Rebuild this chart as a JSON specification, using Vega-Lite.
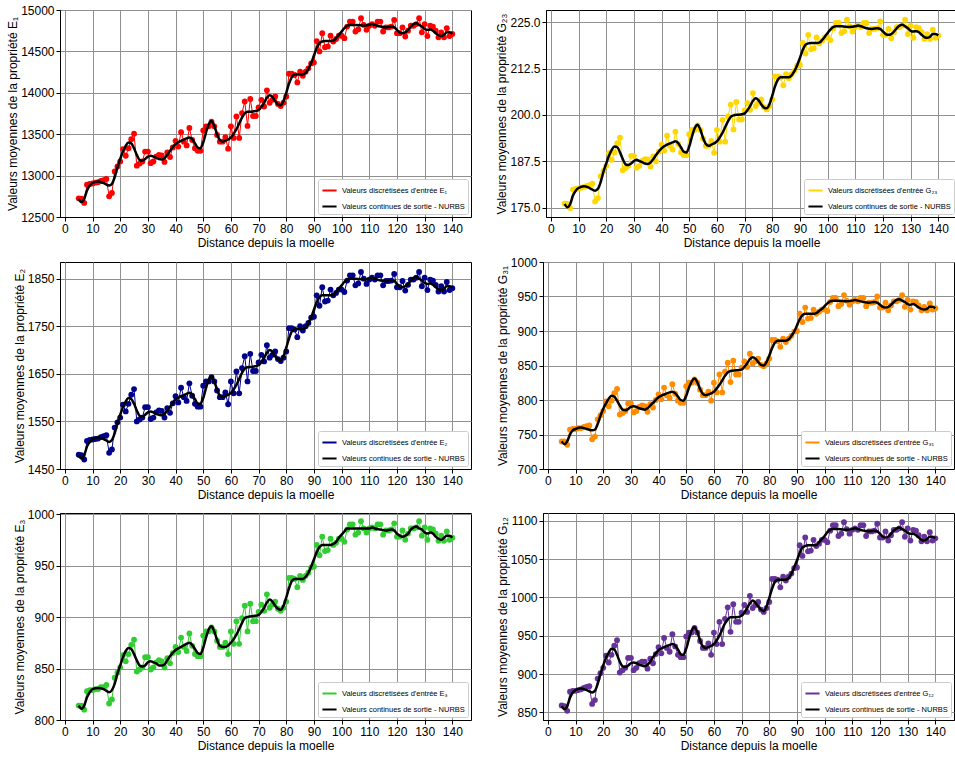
{
"$schema": "https://vega.github.io/schema/vega-lite/v6.json",
"padding": {"left": 6, "top": 3, "right": 0, "bottom": 0},
"datasets": {
"pts": [
{"x":5,"E1":12725,"E2":1480,"G23":176.1,"G31":740,"E3":814,"G12":859},
{"x":6,"E1":12720,"E2":1479,"G23":176.0,"G31":740,"E3":814,"G12":858},
{"x":7,"E1":12670,"E2":1470,"G23":174.9,"G31":735,"E3":810,"G12":852},
{"x":8,"E1":12890,"E2":1509,"G23":179.9,"G31":757,"E3":828,"G12":877},
{"x":9,"E1":12900,"E2":1511,"G23":180.1,"G31":758,"E3":829,"G12":878},
{"x":10,"E1":12905,"E2":1512,"G23":180.2,"G31":758,"E3":829,"G12":878},
{"x":11,"E1":12915,"E2":1513,"G23":180.4,"G31":759,"E3":830,"G12":879},
{"x":12,"E1":12920,"E2":1514,"G23":180.6,"G31":759,"E3":830,"G12":880},
{"x":13,"E1":12935,"E2":1517,"G23":180.9,"G31":761,"E3":832,"G12":882},
{"x":14,"E1":12945,"E2":1519,"G23":181.1,"G31":762,"E3":832,"G12":883},
{"x":15,"E1":12960,"E2":1521,"G23":181.5,"G31":763,"E3":834,"G12":884},
{"x":16,"E1":12750,"E2":1484,"G23":176.7,"G31":743,"E3":816,"G12":861},
{"x":17,"E1":12790,"E2":1491,"G23":177.6,"G31":747,"E3":820,"G12":866},
{"x":18,"E1":13050,"E2":1537,"G23":183.5,"G31":772,"E3":841,"G12":894},
{"x":19,"E1":13110,"E2":1548,"G23":184.9,"G31":778,"E3":846,"G12":901},
{"x":20,"E1":13170,"E2":1558,"G23":186.3,"G31":784,"E3":851,"G12":908},
{"x":21,"E1":13320,"E2":1585,"G23":189.7,"G31":798,"E3":863,"G12":924},
{"x":22,"E1":13240,"E2":1571,"G23":187.9,"G31":791,"E3":857,"G12":915},
{"x":23,"E1":13330,"E2":1587,"G23":189.9,"G31":799,"E3":864,"G12":925},
{"x":24,"E1":13440,"E2":1606,"G23":192.4,"G31":810,"E3":873,"G12":937},
{"x":25,"E1":13505,"E2":1618,"G23":193.9,"G31":816,"E3":878,"G12":944},
{"x":26,"E1":13120,"E2":1550,"G23":185.1,"G31":779,"E3":847,"G12":902},
{"x":27,"E1":13145,"E2":1554,"G23":185.7,"G31":781,"E3":849,"G12":905},
{"x":28,"E1":13170,"E2":1558,"G23":186.3,"G31":784,"E3":851,"G12":908},
{"x":29,"E1":13290,"E2":1580,"G23":189.0,"G31":795,"E3":861,"G12":921},
{"x":30,"E1":13290,"E2":1580,"G23":189.0,"G31":795,"E3":861,"G12":921},
{"x":31,"E1":13150,"E2":1555,"G23":185.8,"G31":782,"E3":849,"G12":905},
{"x":32,"E1":13170,"E2":1558,"G23":186.3,"G31":784,"E3":851,"G12":908},
{"x":33,"E1":13230,"E2":1569,"G23":187.6,"G31":790,"E3":856,"G12":914},
{"x":34,"E1":13250,"E2":1573,"G23":188.1,"G31":792,"E3":858,"G12":916},
{"x":35,"E1":13245,"E2":1572,"G23":188.0,"G31":791,"E3":857,"G12":916},
{"x":36,"E1":13165,"E2":1558,"G23":186.1,"G31":783,"E3":851,"G12":907},
{"x":37,"E1":13280,"E2":1578,"G23":188.8,"G31":794,"E3":860,"G12":920},
{"x":38,"E1":13225,"E2":1568,"G23":187.5,"G31":789,"E3":855,"G12":914},
{"x":39,"E1":13340,"E2":1588,"G23":190.1,"G31":800,"E3":865,"G12":926},
{"x":40,"E1":13420,"E2":1603,"G23":192.0,"G31":808,"E3":871,"G12":935},
{"x":41,"E1":13350,"E2":1590,"G23":190.4,"G31":801,"E3":866,"G12":927},
{"x":42,"E1":13525,"E2":1621,"G23":194.4,"G31":818,"E3":880,"G12":947},
{"x":43,"E1":13410,"E2":1601,"G23":191.7,"G31":807,"E3":871,"G12":934},
{"x":44,"E1":13365,"E2":1593,"G23":190.7,"G31":803,"E3":867,"G12":929},
{"x":45,"E1":13575,"E2":1630,"G23":195.5,"G31":823,"E3":884,"G12":952},
{"x":46,"E1":13430,"E2":1604,"G23":192.2,"G31":809,"E3":872,"G12":936},
{"x":47,"E1":13330,"E2":1587,"G23":189.9,"G31":799,"E3":864,"G12":925},
{"x":48,"E1":13300,"E2":1581,"G23":189.2,"G31":796,"E3":862,"G12":922},
{"x":49,"E1":13300,"E2":1581,"G23":189.2,"G31":796,"E3":862,"G12":922},
{"x":50,"E1":13545,"E2":1625,"G23":194.8,"G31":820,"E3":882,"G12":949},
{"x":51,"E1":13595,"E2":1634,"G23":196.0,"G31":825,"E3":886,"G12":954},
{"x":52,"E1":13595,"E2":1634,"G23":196.0,"G31":825,"E3":886,"G12":954},
{"x":53,"E1":13650,"E2":1643,"G23":197.2,"G31":830,"E3":890,"G12":960},
{"x":54,"E1":13595,"E2":1634,"G23":196.0,"G31":825,"E3":886,"G12":954},
{"x":55,"E1":13490,"E2":1615,"G23":193.6,"G31":815,"E3":877,"G12":943},
{"x":56,"E1":13410,"E2":1601,"G23":191.7,"G31":807,"E3":871,"G12":934},
{"x":57,"E1":13410,"E2":1601,"G23":191.7,"G31":807,"E3":871,"G12":934},
{"x":58,"E1":13465,"E2":1611,"G23":193.0,"G31":812,"E3":875,"G12":940},
{"x":59,"E1":13325,"E2":1586,"G23":189.8,"G31":799,"E3":864,"G12":925},
{"x":60,"E1":13595,"E2":1634,"G23":196.0,"G31":825,"E3":886,"G12":954},
{"x":61,"E1":13455,"E2":1609,"G23":192.8,"G31":811,"E3":874,"G12":939},
{"x":62,"E1":13715,"E2":1655,"G23":198.7,"G31":837,"E3":896,"G12":968},
{"x":63,"E1":13455,"E2":1609,"G23":192.8,"G31":811,"E3":874,"G12":939},
{"x":64,"E1":13755,"E2":1662,"G23":199.6,"G31":841,"E3":899,"G12":972},
{"x":65,"E1":13895,"E2":1687,"G23":202.8,"G31":854,"E3":911,"G12":987},
{"x":66,"E1":13600,"E2":1634,"G23":196.1,"G31":826,"E3":886,"G12":955},
{"x":67,"E1":13925,"E2":1692,"G23":203.5,"G31":857,"E3":913,"G12":991},
{"x":68,"E1":13720,"E2":1656,"G23":198.8,"G31":837,"E3":896,"G12":968},
{"x":69,"E1":13720,"E2":1656,"G23":198.8,"G31":837,"E3":896,"G12":968},
{"x":70,"E1":13825,"E2":1674,"G23":201.2,"G31":847,"E3":905,"G12":980},
{"x":71,"E1":13915,"E2":1690,"G23":203.2,"G31":856,"E3":912,"G12":990},
{"x":72,"E1":13835,"E2":1676,"G23":201.4,"G31":848,"E3":906,"G12":981},
{"x":73,"E1":14030,"E2":1710,"G23":205.9,"G31":867,"E3":922,"G12":1002},
{"x":74,"E1":13880,"E2":1684,"G23":202.4,"G31":853,"E3":909,"G12":986},
{"x":75,"E1":13915,"E2":1690,"G23":203.2,"G31":856,"E3":912,"G12":990},
{"x":76,"E1":13955,"E2":1697,"G23":204.2,"G31":860,"E3":915,"G12":994},
{"x":77,"E1":13865,"E2":1681,"G23":202.1,"G31":851,"E3":908,"G12":984},
{"x":78,"E1":13840,"E2":1677,"G23":201.5,"G31":849,"E3":906,"G12":981},
{"x":79,"E1":13880,"E2":1684,"G23":202.4,"G31":853,"E3":909,"G12":986},
{"x":80,"E1":13955,"E2":1697,"G23":204.2,"G31":860,"E3":915,"G12":994},
{"x":81,"E1":14230,"E2":1746,"G23":210.4,"G31":887,"E3":938,"G12":1024},
{"x":82,"E1":14230,"E2":1746,"G23":210.4,"G31":887,"E3":938,"G12":1024},
{"x":83,"E1":14215,"E2":1743,"G23":210.1,"G31":885,"E3":937,"G12":1023},
{"x":84,"E1":14125,"E2":1727,"G23":208.0,"G31":877,"E3":929,"G12":1013},
{"x":85,"E1":14255,"E2":1750,"G23":211.0,"G31":889,"E3":940,"G12":1027},
{"x":86,"E1":14205,"E2":1741,"G23":209.9,"G31":884,"E3":936,"G12":1022},
{"x":87,"E1":14255,"E2":1750,"G23":211.0,"G31":889,"E3":940,"G12":1027},
{"x":88,"E1":14295,"E2":1757,"G23":211.9,"G31":893,"E3":943,"G12":1031},
{"x":89,"E1":14355,"E2":1768,"G23":213.3,"G31":899,"E3":948,"G12":1038},
{"x":90,"E1":14365,"E2":1770,"G23":213.5,"G31":900,"E3":949,"G12":1039},
{"x":91,"E1":14625,"E2":1815,"G23":219.4,"G31":925,"E3":970,"G12":1068},
{"x":92,"E1":14500,"E2":1793,"G23":216.6,"G31":913,"E3":960,"G12":1054},
{"x":93,"E1":14720,"E2":1832,"G23":221.6,"G31":934,"E3":978,"G12":1078},
{"x":94,"E1":14550,"E2":1802,"G23":217.7,"G31":918,"E3":964,"G12":1060},
{"x":95,"E1":14560,"E2":1804,"G23":218.0,"G31":919,"E3":965,"G12":1061},
{"x":96,"E1":14690,"E2":1827,"G23":220.9,"G31":931,"E3":976,"G12":1075},
{"x":97,"E1":14620,"E2":1815,"G23":219.3,"G31":925,"E3":970,"G12":1067},
{"x":98,"E1":14650,"E2":1820,"G23":220.0,"G31":928,"E3":972,"G12":1070},
{"x":99,"E1":14690,"E2":1827,"G23":220.9,"G31":931,"E3":976,"G12":1075},
{"x":100,"E1":14690,"E2":1827,"G23":220.9,"G31":931,"E3":976,"G12":1075},
{"x":101,"E1":14660,"E2":1822,"G23":220.2,"G31":929,"E3":973,"G12":1072},
{"x":102,"E1":14800,"E2":1846,"G23":223.4,"G31":942,"E3":985,"G12":1087},
{"x":103,"E1":14860,"E2":1857,"G23":224.8,"G31":948,"E3":990,"G12":1094},
{"x":104,"E1":14860,"E2":1857,"G23":224.8,"G31":948,"E3":990,"G12":1094},
{"x":105,"E1":14740,"E2":1836,"G23":222.1,"G31":936,"E3":980,"G12":1080},
{"x":106,"E1":14765,"E2":1840,"G23":222.6,"G31":939,"E3":982,"G12":1083},
{"x":107,"E1":14900,"E2":1864,"G23":225.7,"G31":952,"E3":993,"G12":1098},
{"x":108,"E1":14820,"E2":1850,"G23":223.9,"G31":944,"E3":986,"G12":1089},
{"x":109,"E1":14760,"E2":1839,"G23":222.5,"G31":938,"E3":982,"G12":1083},
{"x":110,"E1":14810,"E2":1848,"G23":223.7,"G31":943,"E3":986,"G12":1088},
{"x":111,"E1":14830,"E2":1852,"G23":224.1,"G31":945,"E3":987,"G12":1090},
{"x":112,"E1":14810,"E2":1848,"G23":223.7,"G31":943,"E3":986,"G12":1088},
{"x":113,"E1":14860,"E2":1857,"G23":224.8,"G31":948,"E3":990,"G12":1094},
{"x":114,"E1":14860,"E2":1857,"G23":224.8,"G31":948,"E3":990,"G12":1094},
{"x":115,"E1":14740,"E2":1836,"G23":222.1,"G31":936,"E3":980,"G12":1080},
{"x":116,"E1":14790,"E2":1845,"G23":223.2,"G31":941,"E3":984,"G12":1086},
{"x":117,"E1":14790,"E2":1845,"G23":223.2,"G31":941,"E3":984,"G12":1086},
{"x":118,"E1":14800,"E2":1846,"G23":223.4,"G31":942,"E3":985,"G12":1087},
{"x":119,"E1":14880,"E2":1860,"G23":225.2,"G31":950,"E3":991,"G12":1096},
{"x":120,"E1":14720,"E2":1832,"G23":221.6,"G31":934,"E3":978,"G12":1078},
{"x":121,"E1":14720,"E2":1832,"G23":221.6,"G31":934,"E3":978,"G12":1078},
{"x":122,"E1":14790,"E2":1845,"G23":223.2,"G31":941,"E3":984,"G12":1086},
{"x":123,"E1":14680,"E2":1825,"G23":220.7,"G31":930,"E3":975,"G12":1074},
{"x":124,"E1":14750,"E2":1837,"G23":222.3,"G31":937,"E3":981,"G12":1081},
{"x":125,"E1":14810,"E2":1848,"G23":223.7,"G31":943,"E3":986,"G12":1088},
{"x":126,"E1":14810,"E2":1848,"G23":223.7,"G31":943,"E3":986,"G12":1088},
{"x":127,"E1":14830,"E2":1852,"G23":224.1,"G31":945,"E3":987,"G12":1090},
{"x":128,"E1":14900,"E2":1864,"G23":225.7,"G31":952,"E3":993,"G12":1098},
{"x":129,"E1":14730,"E2":1834,"G23":221.8,"G31":935,"E3":979,"G12":1079},
{"x":130,"E1":14830,"E2":1852,"G23":224.1,"G31":945,"E3":987,"G12":1090},
{"x":131,"E1":14685,"E2":1826,"G23":220.8,"G31":931,"E3":975,"G12":1074},
{"x":132,"E1":14810,"E2":1848,"G23":223.7,"G31":943,"E3":986,"G12":1088},
{"x":133,"E1":14800,"E2":1846,"G23":223.4,"G31":942,"E3":985,"G12":1087},
{"x":134,"E1":14750,"E2":1837,"G23":222.3,"G31":937,"E3":981,"G12":1081},
{"x":135,"E1":14670,"E2":1823,"G23":220.5,"G31":930,"E3":974,"G12":1073},
{"x":136,"E1":14730,"E2":1834,"G23":221.8,"G31":935,"E3":979,"G12":1079},
{"x":137,"E1":14670,"E2":1823,"G23":220.5,"G31":930,"E3":974,"G12":1073},
{"x":138,"E1":14780,"E2":1843,"G23":223.0,"G31":940,"E3":983,"G12":1085},
{"x":139,"E1":14685,"E2":1826,"G23":220.8,"G31":931,"E3":975,"G12":1074},
{"x":140,"E1":14710,"E2":1830,"G23":221.4,"G31":933,"E3":977,"G12":1077}
],
"crv": [
{"x":5,"E1":12720,"E2":1479,"G23":176.0,"G31":740,"E3":814,"G12":858},
{"x":6,"E1":12680,"E2":1472,"G23":175.1,"G31":736,"E3":811,"G12":854},
{"x":7,"E1":12720,"E2":1479,"G23":176.0,"G31":740,"E3":814,"G12":858},
{"x":8,"E1":12820,"E2":1497,"G23":178.3,"G31":750,"E3":822,"G12":869},
{"x":9,"E1":12880,"E2":1507,"G23":179.6,"G31":756,"E3":827,"G12":876},
{"x":10,"E1":12910,"E2":1513,"G23":180.3,"G31":758,"E3":830,"G12":879},
{"x":12,"E1":12930,"E2":1516,"G23":180.8,"G31":760,"E3":831,"G12":881},
{"x":14,"E1":12910,"E2":1513,"G23":180.3,"G31":758,"E3":830,"G12":879},
{"x":16,"E1":12880,"E2":1507,"G23":179.6,"G31":756,"E3":827,"G12":876},
{"x":17,"E1":12900,"E2":1511,"G23":180.1,"G31":757,"E3":829,"G12":878},
{"x":18,"E1":12980,"E2":1525,"G23":181.9,"G31":765,"E3":835,"G12":887},
{"x":19,"E1":13100,"E2":1546,"G23":184.7,"G31":777,"E3":845,"G12":900},
{"x":20,"E1":13200,"E2":1564,"G23":186.9,"G31":787,"E3":853,"G12":911},
{"x":21,"E1":13290,"E2":1580,"G23":189.0,"G31":795,"E3":861,"G12":921},
{"x":22,"E1":13360,"E2":1592,"G23":190.6,"G31":802,"E3":867,"G12":928},
{"x":23,"E1":13400,"E2":1599,"G23":191.5,"G31":806,"E3":870,"G12":933},
{"x":24,"E1":13390,"E2":1597,"G23":191.3,"G31":805,"E3":869,"G12":932},
{"x":25,"E1":13330,"E2":1587,"G23":189.9,"G31":799,"E3":864,"G12":925},
{"x":26,"E1":13250,"E2":1573,"G23":188.1,"G31":792,"E3":858,"G12":916},
{"x":27,"E1":13190,"E2":1562,"G23":186.7,"G31":786,"E3":853,"G12":910},
{"x":28,"E1":13180,"E2":1560,"G23":186.5,"G31":785,"E3":852,"G12":909},
{"x":29,"E1":13200,"E2":1564,"G23":186.9,"G31":787,"E3":853,"G12":911},
{"x":30,"E1":13230,"E2":1569,"G23":187.6,"G31":790,"E3":856,"G12":914},
{"x":31,"E1":13240,"E2":1571,"G23":187.9,"G31":791,"E3":857,"G12":915},
{"x":32,"E1":13230,"E2":1569,"G23":187.6,"G31":790,"E3":856,"G12":914},
{"x":33,"E1":13215,"E2":1566,"G23":187.3,"G31":788,"E3":855,"G12":912},
{"x":34,"E1":13200,"E2":1564,"G23":186.9,"G31":787,"E3":853,"G12":911},
{"x":35,"E1":13195,"E2":1563,"G23":186.8,"G31":786,"E3":853,"G12":910},
{"x":36,"E1":13210,"E2":1566,"G23":187.2,"G31":788,"E3":854,"G12":912},
{"x":37,"E1":13250,"E2":1573,"G23":188.1,"G31":792,"E3":858,"G12":916},
{"x":38,"E1":13300,"E2":1581,"G23":189.2,"G31":796,"E3":862,"G12":922},
{"x":40,"E1":13380,"E2":1596,"G23":191.0,"G31":804,"E3":868,"G12":931},
{"x":42,"E1":13420,"E2":1603,"G23":192.0,"G31":808,"E3":871,"G12":935},
{"x":44,"E1":13450,"E2":1608,"G23":192.6,"G31":811,"E3":874,"G12":938},
{"x":45,"E1":13460,"E2":1610,"G23":192.9,"G31":812,"E3":875,"G12":939},
{"x":46,"E1":13440,"E2":1606,"G23":192.4,"G31":810,"E3":873,"G12":937},
{"x":47,"E1":13390,"E2":1597,"G23":191.3,"G31":805,"E3":869,"G12":932},
{"x":48,"E1":13340,"E2":1588,"G23":190.1,"G31":800,"E3":865,"G12":926},
{"x":49,"E1":13330,"E2":1587,"G23":189.9,"G31":799,"E3":864,"G12":925},
{"x":50,"E1":13400,"E2":1599,"G23":191.5,"G31":806,"E3":870,"G12":933},
{"x":51,"E1":13520,"E2":1620,"G23":194.2,"G31":818,"E3":880,"G12":946},
{"x":52,"E1":13620,"E2":1638,"G23":196.5,"G31":827,"E3":888,"G12":957},
{"x":53,"E1":13660,"E2":1645,"G23":197.4,"G31":831,"E3":891,"G12":961},
{"x":54,"E1":13600,"E2":1634,"G23":196.1,"G31":826,"E3":886,"G12":955},
{"x":55,"E1":13500,"E2":1617,"G23":193.8,"G31":816,"E3":878,"G12":944},
{"x":56,"E1":13430,"E2":1604,"G23":192.2,"G31":809,"E3":872,"G12":936},
{"x":57,"E1":13410,"E2":1601,"G23":191.7,"G31":807,"E3":871,"G12":934},
{"x":58,"E1":13420,"E2":1603,"G23":192.0,"G31":808,"E3":871,"G12":935},
{"x":60,"E1":13460,"E2":1610,"G23":192.9,"G31":812,"E3":875,"G12":939},
{"x":62,"E1":13560,"E2":1627,"G23":195.2,"G31":822,"E3":883,"G12":950},
{"x":64,"E1":13700,"E2":1652,"G23":198.3,"G31":835,"E3":894,"G12":966},
{"x":65,"E1":13750,"E2":1661,"G23":199.5,"G31":840,"E3":899,"G12":971},
{"x":66,"E1":13770,"E2":1664,"G23":199.9,"G31":842,"E3":900,"G12":974},
{"x":68,"E1":13775,"E2":1665,"G23":200.1,"G31":843,"E3":901,"G12":974},
{"x":70,"E1":13790,"E2":1668,"G23":200.4,"G31":844,"E3":902,"G12":976},
{"x":71,"E1":13830,"E2":1675,"G23":201.3,"G31":848,"E3":905,"G12":980},
{"x":72,"E1":13880,"E2":1684,"G23":202.4,"G31":853,"E3":909,"G12":986},
{"x":73,"E1":13940,"E2":1694,"G23":203.8,"G31":859,"E3":914,"G12":992},
{"x":74,"E1":13970,"E2":1700,"G23":204.5,"G31":862,"E3":917,"G12":996},
{"x":75,"E1":13950,"E2":1696,"G23":204.0,"G31":860,"E3":915,"G12":993},
{"x":76,"E1":13900,"E2":1687,"G23":202.9,"G31":855,"E3":911,"G12":988},
{"x":77,"E1":13860,"E2":1680,"G23":202.0,"G31":851,"E3":908,"G12":984},
{"x":78,"E1":13850,"E2":1679,"G23":201.8,"G31":850,"E3":907,"G12":982},
{"x":79,"E1":13900,"E2":1687,"G23":202.9,"G31":855,"E3":911,"G12":988},
{"x":80,"E1":14000,"E2":1705,"G23":205.2,"G31":864,"E3":919,"G12":999},
{"x":81,"E1":14110,"E2":1724,"G23":207.7,"G31":875,"E3":928,"G12":1011},
{"x":82,"E1":14190,"E2":1739,"G23":209.5,"G31":883,"E3":935,"G12":1020},
{"x":83,"E1":14220,"E2":1744,"G23":210.2,"G31":886,"E3":937,"G12":1023},
{"x":84,"E1":14220,"E2":1744,"G23":210.2,"G31":886,"E3":937,"G12":1023},
{"x":86,"E1":14220,"E2":1744,"G23":210.2,"G31":886,"E3":937,"G12":1023},
{"x":87,"E1":14240,"E2":1747,"G23":210.7,"G31":888,"E3":939,"G12":1025},
{"x":88,"E1":14290,"E2":1756,"G23":211.8,"G31":893,"E3":943,"G12":1031},
{"x":89,"E1":14360,"E2":1769,"G23":213.4,"G31":899,"E3":949,"G12":1039},
{"x":90,"E1":14450,"E2":1785,"G23":215.4,"G31":908,"E3":956,"G12":1048},
{"x":91,"E1":14540,"E2":1800,"G23":217.5,"G31":917,"E3":963,"G12":1058},
{"x":92,"E1":14600,"E2":1811,"G23":218.9,"G31":923,"E3":968,"G12":1065},
{"x":93,"E1":14620,"E2":1815,"G23":219.3,"G31":925,"E3":970,"G12":1067},
{"x":94,"E1":14625,"E2":1815,"G23":219.4,"G31":925,"E3":970,"G12":1068},
{"x":96,"E1":14625,"E2":1815,"G23":219.4,"G31":925,"E3":970,"G12":1068},
{"x":97,"E1":14630,"E2":1816,"G23":219.5,"G31":926,"E3":971,"G12":1068},
{"x":98,"E1":14660,"E2":1822,"G23":220.2,"G31":929,"E3":973,"G12":1072},
{"x":99,"E1":14700,"E2":1829,"G23":221.1,"G31":932,"E3":977,"G12":1076},
{"x":100,"E1":14740,"E2":1836,"G23":222.1,"G31":936,"E3":980,"G12":1080},
{"x":101,"E1":14780,"E2":1843,"G23":223.0,"G31":940,"E3":983,"G12":1085},
{"x":102,"E1":14810,"E2":1848,"G23":223.7,"G31":943,"E3":986,"G12":1088},
{"x":103,"E1":14820,"E2":1850,"G23":223.9,"G31":944,"E3":986,"G12":1089},
{"x":105,"E1":14820,"E2":1850,"G23":223.9,"G31":944,"E3":986,"G12":1089},
{"x":108,"E1":14810,"E2":1848,"G23":223.7,"G31":943,"E3":986,"G12":1088},
{"x":110,"E1":14820,"E2":1850,"G23":223.9,"G31":944,"E3":986,"G12":1089},
{"x":111,"E1":14830,"E2":1852,"G23":224.1,"G31":945,"E3":987,"G12":1090},
{"x":112,"E1":14820,"E2":1850,"G23":223.9,"G31":944,"E3":986,"G12":1089},
{"x":114,"E1":14800,"E2":1846,"G23":223.4,"G31":942,"E3":985,"G12":1087},
{"x":116,"E1":14790,"E2":1845,"G23":223.2,"G31":941,"E3":984,"G12":1086},
{"x":118,"E1":14800,"E2":1846,"G23":223.4,"G31":942,"E3":985,"G12":1087},
{"x":119,"E1":14790,"E2":1845,"G23":223.2,"G31":941,"E3":984,"G12":1086},
{"x":120,"E1":14760,"E2":1839,"G23":222.5,"G31":938,"E3":981,"G12":1083},
{"x":121,"E1":14730,"E2":1834,"G23":221.8,"G31":935,"E3":979,"G12":1079},
{"x":122,"E1":14720,"E2":1832,"G23":221.6,"G31":934,"E3":978,"G12":1078},
{"x":123,"E1":14730,"E2":1834,"G23":221.8,"G31":935,"E3":979,"G12":1079},
{"x":124,"E1":14760,"E2":1839,"G23":222.5,"G31":938,"E3":981,"G12":1083},
{"x":125,"E1":14800,"E2":1846,"G23":223.4,"G31":942,"E3":985,"G12":1087},
{"x":126,"E1":14830,"E2":1852,"G23":224.1,"G31":945,"E3":987,"G12":1090},
{"x":127,"E1":14840,"E2":1853,"G23":224.3,"G31":946,"E3":988,"G12":1091},
{"x":128,"E1":14820,"E2":1850,"G23":223.9,"G31":944,"E3":986,"G12":1089},
{"x":129,"E1":14800,"E2":1846,"G23":223.4,"G31":942,"E3":985,"G12":1087},
{"x":130,"E1":14770,"E2":1841,"G23":222.7,"G31":939,"E3":982,"G12":1084},
{"x":131,"E1":14760,"E2":1839,"G23":222.5,"G31":938,"E3":981,"G12":1083},
{"x":132,"E1":14765,"E2":1840,"G23":222.6,"G31":939,"E3":982,"G12":1083},
{"x":133,"E1":14750,"E2":1837,"G23":222.3,"G31":937,"E3":981,"G12":1081},
{"x":134,"E1":14720,"E2":1832,"G23":221.6,"G31":934,"E3":978,"G12":1078},
{"x":135,"E1":14695,"E2":1828,"G23":221.0,"G31":932,"E3":976,"G12":1075},
{"x":136,"E1":14685,"E2":1826,"G23":220.8,"G31":931,"E3":975,"G12":1074},
{"x":137,"E1":14700,"E2":1829,"G23":221.1,"G31":932,"E3":977,"G12":1076},
{"x":138,"E1":14730,"E2":1834,"G23":221.8,"G31":935,"E3":979,"G12":1079},
{"x":139,"E1":14730,"E2":1834,"G23":221.8,"G31":935,"E3":979,"G12":1079},
{"x":140,"E1":14710,"E2":1830,"G23":221.4,"G31":933,"E3":977,"G12":1077}
]
},
"resolve": {"scale": {"color": "independent"}, "legend": {"color": "independent"}},
"spacing": 6,
"vconcat": [
{
"spacing": 23,
"resolve": {"scale": {"color": "independent"}, "legend": {"color": "independent"}},
"hconcat": [
{
"width": 411, "height": 207,
"encoding": {
"x": {"field": "x", "type": "quantitative", "scale": {"domain": [-1.75, 146.75], "nice": false, "zero": false}, "axis": {"values": [0,10,20,30,40,50,60,70,80,90,100,110,120,130,140], "title": "Distance depuis la moelle"}},
"y": {"field": "E1", "type": "quantitative", "scale": {"domain": [12500, 15000], "nice": false, "zero": false}, "axis": {"values": [12500,13000,13500,14000,14500,15000], "format": "d", "title": "Valeurs moyennes de la propriété E₁"}}
},
"layer": [
{"data": {"name": "pts"}, "mark": {"type": "line", "strokeWidth": 1},
 "encoding": {"color": {"datum": "Valeurs discrétisées d'entrée E₁", "scale": {"domain": ["Valeurs discrétisées d'entrée E₁", "Valeurs continues de sortie - NURBS"], "range": ["#ff0000", "#000000"]}, "legend": {"title": null}}}},
{"data": {"name": "pts"}, "mark": {"type": "point", "filled": true, "size": 34, "opacity": 1},
 "encoding": {"color": {"datum": "Valeurs discrétisées d'entrée E₁"}}},
{"data": {"name": "crv"}, "mark": {"type": "line", "strokeWidth": 2.5, "interpolate": "monotone"},
 "encoding": {"color": {"datum": "Valeurs continues de sortie - NURBS"}}}
]
},
{
"width": 411, "height": 207,
"encoding": {
"x": {"field": "x", "type": "quantitative", "scale": {"domain": [-1.75, 146.75], "nice": false, "zero": false}, "axis": {"values": [0,10,20,30,40,50,60,70,80,90,100,110,120,130,140], "title": "Distance depuis la moelle"}},
"y": {"field": "G23", "type": "quantitative", "scale": {"domain": [172.5, 228.3], "nice": false, "zero": false}, "axis": {"values": [175,187.5,200,212.5,225], "format": ".1f", "title": "Valeurs moyennes de la propriété G₂₃"}}
},
"layer": [
{"data": {"name": "pts"}, "mark": {"type": "line", "strokeWidth": 1},
 "encoding": {"color": {"datum": "Valeurs discrétisées d'entrée G₂₃", "scale": {"domain": ["Valeurs discrétisées d'entrée G₂₃", "Valeurs continues de sortie - NURBS"], "range": ["#ffd700", "#000000"]}, "legend": {"title": null}}}},
{"data": {"name": "pts"}, "mark": {"type": "point", "filled": true, "size": 34, "opacity": 1},
 "encoding": {"color": {"datum": "Valeurs discrétisées d'entrée G₂₃"}}},
{"data": {"name": "crv"}, "mark": {"type": "line", "strokeWidth": 2.5, "interpolate": "monotone"},
 "encoding": {"color": {"datum": "Valeurs continues de sortie - NURBS"}}}
]
}
]
},
{
"spacing": 23,
"resolve": {"scale": {"color": "independent"}, "legend": {"color": "independent"}},
"hconcat": [
{
"width": 411, "height": 207,
"encoding": {
"x": {"field": "x", "type": "quantitative", "scale": {"domain": [-1.75, 146.75], "nice": false, "zero": false}, "axis": {"values": [0,10,20,30,40,50,60,70,80,90,100,110,120,130,140], "title": "Distance depuis la moelle"}},
"y": {"field": "E2", "type": "quantitative", "scale": {"domain": [1450, 1885], "nice": false, "zero": false}, "axis": {"values": [1450,1550,1650,1750,1850], "format": "d", "title": "Valeurs moyennes de la propriété E₂"}}
},
"layer": [
{"data": {"name": "pts"}, "mark": {"type": "line", "strokeWidth": 1},
 "encoding": {"color": {"datum": "Valeurs discrétisées d'entrée E₂", "scale": {"domain": ["Valeurs discrétisées d'entrée E₂", "Valeurs continues de sortie - NURBS"], "range": ["#00008b", "#000000"]}, "legend": {"title": null}}}},
{"data": {"name": "pts"}, "mark": {"type": "point", "filled": true, "size": 34, "opacity": 1},
 "encoding": {"color": {"datum": "Valeurs discrétisées d'entrée E₂"}}},
{"data": {"name": "crv"}, "mark": {"type": "line", "strokeWidth": 2.5, "interpolate": "monotone"},
 "encoding": {"color": {"datum": "Valeurs continues de sortie - NURBS"}}}
]
},
{
"width": 411, "height": 207,
"encoding": {
"x": {"field": "x", "type": "quantitative", "scale": {"domain": [-1.75, 146.75], "nice": false, "zero": false}, "axis": {"values": [0,10,20,30,40,50,60,70,80,90,100,110,120,130,140], "title": "Distance depuis la moelle"}},
"y": {"field": "G31", "type": "quantitative", "scale": {"domain": [700, 1000], "nice": false, "zero": false}, "axis": {"values": [700,750,800,850,900,950,1000], "format": "d", "title": "Valeurs moyennes de la propriété G₃₁"}}
},
"layer": [
{"data": {"name": "pts"}, "mark": {"type": "line", "strokeWidth": 1},
 "encoding": {"color": {"datum": "Valeurs discrétisées d'entrée G₃₁", "scale": {"domain": ["Valeurs discrétisées d'entrée G₃₁", "Valeurs continues de sortie - NURBS"], "range": ["#ff8c00", "#000000"]}, "legend": {"title": null}}}},
{"data": {"name": "pts"}, "mark": {"type": "point", "filled": true, "size": 34, "opacity": 1},
 "encoding": {"color": {"datum": "Valeurs discrétisées d'entrée G₃₁"}}},
{"data": {"name": "crv"}, "mark": {"type": "line", "strokeWidth": 2.5, "interpolate": "monotone"},
 "encoding": {"color": {"datum": "Valeurs continues de sortie - NURBS"}}}
]
}
]
},
{
"spacing": 23,
"resolve": {"scale": {"color": "independent"}, "legend": {"color": "independent"}},
"hconcat": [
{
"width": 411, "height": 207,
"encoding": {
"x": {"field": "x", "type": "quantitative", "scale": {"domain": [-1.75, 146.75], "nice": false, "zero": false}, "axis": {"values": [0,10,20,30,40,50,60,70,80,90,100,110,120,130,140], "title": "Distance depuis la moelle"}},
"y": {"field": "E3", "type": "quantitative", "scale": {"domain": [800, 1001], "nice": false, "zero": false}, "axis": {"values": [800,850,900,950,1000], "format": "d", "title": "Valeurs moyennes de la propriété E₃"}}
},
"layer": [
{"data": {"name": "pts"}, "mark": {"type": "line", "strokeWidth": 1},
 "encoding": {"color": {"datum": "Valeurs discrétisées d'entrée E₃", "scale": {"domain": ["Valeurs discrétisées d'entrée E₃", "Valeurs continues de sortie - NURBS"], "range": ["#32cd32", "#000000"]}, "legend": {"title": null}}}},
{"data": {"name": "pts"}, "mark": {"type": "point", "filled": true, "size": 34, "opacity": 1},
 "encoding": {"color": {"datum": "Valeurs discrétisées d'entrée E₃"}}},
{"data": {"name": "crv"}, "mark": {"type": "line", "strokeWidth": 2.5, "interpolate": "monotone"},
 "encoding": {"color": {"datum": "Valeurs continues de sortie - NURBS"}}}
]
},
{
"width": 411, "height": 207,
"encoding": {
"x": {"field": "x", "type": "quantitative", "scale": {"domain": [-1.75, 146.75], "nice": false, "zero": false}, "axis": {"values": [0,10,20,30,40,50,60,70,80,90,100,110,120,130,140], "title": "Distance depuis la moelle"}},
"y": {"field": "G12", "type": "quantitative", "scale": {"domain": [840, 1110], "nice": false, "zero": false}, "axis": {"values": [850,900,950,1000,1050,1100], "format": "d", "title": "Valeurs moyennes de la propriété G₁₂"}}
},
"layer": [
{"data": {"name": "pts"}, "mark": {"type": "line", "strokeWidth": 1},
 "encoding": {"color": {"datum": "Valeurs discrétisées d'entrée G₁₂", "scale": {"domain": ["Valeurs discrétisées d'entrée G₁₂", "Valeurs continues de sortie - NURBS"], "range": ["#663399", "#000000"]}, "legend": {"title": null}}}},
{"data": {"name": "pts"}, "mark": {"type": "point", "filled": true, "size": 34, "opacity": 1},
 "encoding": {"color": {"datum": "Valeurs discrétisées d'entrée G₁₂"}}},
{"data": {"name": "crv"}, "mark": {"type": "line", "strokeWidth": 2.5, "interpolate": "monotone"},
 "encoding": {"color": {"datum": "Valeurs continues de sortie - NURBS"}}}
]
}
]
}
],
"config": {
"font": "Liberation Sans",
"background": "white",
"view": {"stroke": "#000000", "strokeWidth": 1},
"axis": {"labelFontSize": 12, "titleFontSize": 12, "labelColor": "#000000", "titleColor": "#000000", "titleFontWeight": "normal", "domainColor": "#000000", "tickColor": "#000000", "tickSize": 4, "labelPadding": 2, "titlePadding": 3, "grid": true, "gridColor": "#909090", "gridWidth": 1, "labelFont": "Liberation Sans", "titleFont": "Liberation Sans"},
"axisY": {"titlePadding": 1},
"legend": {"orient": "bottom-right", "offset": 3, "padding": 3, "strokeColor": "#cccccc", "fillColor": "#ffffff", "cornerRadius": 2, "labelFontSize": 7.5, "labelFont": "Liberation Sans", "labelColor": "#000000", "rowPadding": 3, "labelLimit": 400, "symbolType": "stroke", "symbolStrokeWidth": 2, "symbolSize": 200}
}
}
